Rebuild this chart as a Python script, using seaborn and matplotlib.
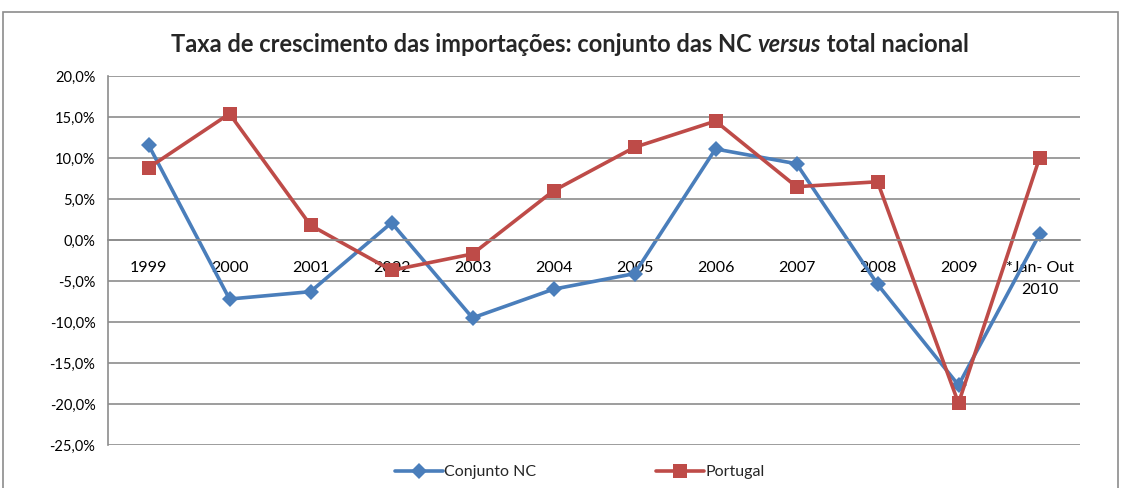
import matplotlib
matplotlib.use("Agg")
import matplotlib.pyplot as plt
import matplotlib.patches as patches
from matplotlib.lines import Line2D
from matplotlib.ticker import FuncFormatter
import numpy as np
import pandas as pd
import seaborn as sns

# data (%)
years = ["1999", "2000", "2001", "2002", "2003", "2004", "2005", "2006",
         "2007", "2008", "2009", "*Jan- Out\n2010"]
conjunto_nc = [11.6, -7.2, -6.3, 2.1, -9.5, -6.0, -4.1, 11.1, 9.3, -5.4, -17.7, 0.7]
portugal = [8.8, 15.4, 1.8, -3.7, -1.7, 6.0, 11.3, 14.5, 6.5, 7.1, -19.9, 10.0]
series_names = ["Conjunto NC", "Portugal"]
y_ticks = [20, 15, 10, 5, 0, -5, -10, -15, -20, -25]

BLUE = "#4A7EBB"
RED = "#BE4B48"
GRID = "#8C8C8C"

sns.set_theme(style="white")
plt.rcParams["font.family"] = ["Lato", "DejaVu Sans"]

df = pd.DataFrame({
    "ano": years * 2,
    "valor": conjunto_nc + portugal,
    "serie": [series_names[0]] * len(years) + [series_names[1]] * len(years),
})

fig = plt.figure(figsize=(11.24, 4.88), dpi=100)
ax = fig.add_axes([108 / 1124, 1 - 445 / 488, 972 / 1124, 369 / 488])

sns.lineplot(
    data=df, x="ano", y="valor", hue="serie", style="serie",
    palette={series_names[0]: BLUE, series_names[1]: RED},
    markers={series_names[0]: "D", series_names[1]: "s"},
    dashes=False, sort=False, linewidth=2.6, ax=ax, legend=False,
    markeredgewidth=0,
)
for line, ms in zip(ax.lines, [8, 10]):
    line.set_markersize(ms)

ax.set_ylim(-25, 20)
ax.set_yticks(y_ticks)
ax.yaxis.set_major_formatter(FuncFormatter(lambda v, p: f"{v:.1f}%".replace(".", ",")))
ax.set_xlim(-0.5, len(years) - 0.5)
ax.set_xlabel("")
ax.set_ylabel("")

ax.grid(axis="y", color=GRID, linewidth=1.2)
ax.grid(axis="x", visible=False)
ax.set_axisbelow(True)

for s in ["top", "right"]:
    ax.spines[s].set_visible(False)
ax.spines["left"].set_color(GRID)
ax.spines["left"].set_linewidth(1.2)
ax.spines["bottom"].set_position(("data", 0))
ax.spines["bottom"].set_color(GRID)
ax.spines["bottom"].set_linewidth(1.2)

ax.set_xticks(np.arange(-0.5, len(years), 1), minor=True)
ax.tick_params(axis="x", which="minor", length=5, width=1.2, color=GRID, direction="out")
ax.tick_params(axis="x", which="major", length=0, pad=15, labelsize=11.5, colors="black")
ax.tick_params(axis="y", which="major", length=5, width=1.2, color=GRID,
               direction="out", labelsize=10.5, colors="black", pad=4)
for lbl in ax.get_xticklabels():
    lbl.set_linespacing(1.75)

# title with italic "versus"
renderer = fig.canvas.get_renderer()
pieces = [("Taxa de crescimento das importações: conjunto das NC ", "normal"),
          ("versus", "italic"),
          (" total nacional", "normal")]
texts = []
total = 0
for txt, st in pieces:
    t = fig.text(0, 1 - 44 / 488, txt, fontsize=17, fontweight="bold", style=st,
                 va="center", ha="left")
    w = t.get_window_extent(renderer).width
    texts.append((t, w))
    total += w
x = 570 - total / 2
for t, w in texts:
    t.set_x(x / 1124)
    x += w

handles = [Line2D([], [], color=BLUE, marker="D", markersize=8, linewidth=2.6, markeredgewidth=0),
           Line2D([], [], color=RED, marker="s", markersize=10, linewidth=2.6, markeredgewidth=0)]
fig.legend(handles, series_names, loc="center", bbox_to_anchor=(580 / 1124, 1 - 472 / 488),
           ncol=2, frameon=False, fontsize=11.5, handlelength=3.0, handletextpad=0.1,
           columnspacing=7.5)

fig.patches.append(patches.Rectangle((3 / 1124, -0.05), 1115 / 1124, 1.05 - 12 / 488,
                                     transform=fig.transFigure, fill=False,
                                     edgecolor="#8C8C8C", linewidth=1.2))

fig.savefig("out.png", dpi=100)
